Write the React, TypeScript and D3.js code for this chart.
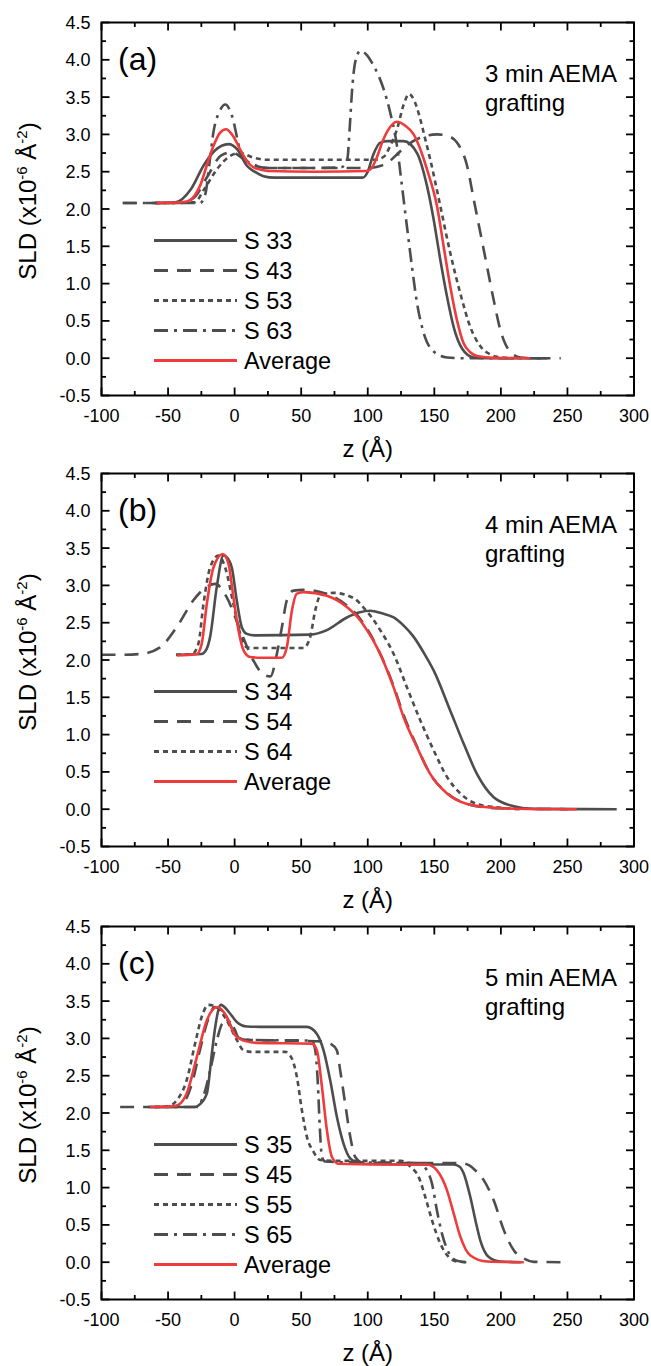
import React from "react";
import * as d3 from "d3";

// axis ticks
const xTicks = [-100, -50, 0, 50, 100, 150, 200, 250, 300];
const yTicks = [-0.5, 0, 0.5, 1, 1.5, 2, 2.5, 3, 3.5, 4, 4.5];

// panel (a) 3 min
const aLabels = ["S 33", "S 43", "S 53", "S 63", "Average"];
const aS33 = [[-60,2.08],[-45,2.085],[-33,2.26],[-23.4,2.58],[-15,2.78],[-4.6,2.87],[2,2.8],[9.2,2.58],[15,2.5],[21.7,2.44],[30,2.42],[60,2.42],[96,2.42],[100,2.5],[104,2.72],[109.4,2.89],[115,2.91],[127,2.91],[137,2.75],[144.5,2.31],[149.5,1.86],[154.5,1.32],[159.5,0.83],[164.5,0.42],[170.8,0.13],[179.6,0.01],[190,0],[235,0]];
const aS43 = [[-84,2.08],[-40,2.08],[-30,2.16],[-20,2.45],[-10,2.72],[-2,2.76],[6,2.68],[15,2.58],[25,2.55],[60,2.55],[100,2.55],[110,2.58],[117,2.65],[123,2.75],[130,2.86],[140,2.96],[152,3.0],[160,2.98],[167,2.89],[174.6,2.58],[179.6,2.13],[184.6,1.68],[189.6,1.23],[194.6,0.78],[199.6,0.38],[206,0.11],[214.6,0.01],[225,0],[245,0]];
const aS53 = [[-60,2.08],[-30,2.09],[-23,2.26],[-13.4,2.53],[-3.4,2.71],[4,2.75],[14,2.69],[24,2.66],[60,2.66],[105,2.66],[112,2.7],[117,2.85],[122,3.07],[127,3.4],[131,3.54],[135,3.45],[139.5,3.2],[143,2.95],[147,2.66],[154.5,2.04],[162,1.41],[169.5,0.87],[177,0.42],[184.6,0.16],[192,0.05],[197,0.02],[210,0]];
const aS63 = [[-84,2.08],[-26,2.08],[-22,2.2],[-19,2.6],[-16,3.02],[-11,3.32],[-7,3.4],[-2,3.25],[4,2.8],[9,2.65],[14,2.6],[22,2.55],[60,2.55],[80,2.56],[83,2.6],[84.7,2.67],[86.5,3.1],[88.1,3.56],[90.6,3.97],[94.4,4.12],[99,4.07],[104.4,3.92],[111.9,3.61],[116.9,3.29],[122,2.84],[125.7,2.31],[129.4,1.77],[133.2,1.23],[137,0.74],[142,0.34],[149.5,0.09],[159.5,0.01],[170,0],[230,0]];
const aAvg = [[-58.5,2.08],[-45,2.085],[-36,2.1],[-30,2.18],[-26,2.31],[-21,2.58],[-16,2.84],[-11,3.02],[-6.4,3.07],[-2,3.0],[1.6,2.89],[5,2.77],[9.2,2.64],[14,2.56],[19,2.53],[25,2.51],[60,2.5],[99.4,2.51],[103,2.55],[107,2.7],[111,2.9],[115,3.05],[121.9,3.17],[128,3.12],[134.5,3.0],[139.5,2.8],[144.5,2.53],[152,2.04],[157,1.5],[162,0.96],[167,0.51],[172,0.2],[177,0.08],[182,0.03],[195,0.005],[222,0]];

// panel (b) 4 min
const bLabels = ["S 34", "S 54", "S 64", "Average"];
const bS34 = [[-44,2.07],[-25,2.08],[-21,2.15],[-18.4,2.31],[-13.4,2.98],[-8.4,3.4],[-4,3.33],[-2.1,3.24],[1.6,2.8],[5.4,2.44],[9.2,2.35],[15,2.33],[56.8,2.34],[69.3,2.4],[84.3,2.57],[94,2.64],[102,2.66],[110,2.63],[119.5,2.57],[127,2.46],[134.5,2.31],[142,2.1],[149.5,1.86],[162,1.32],[172,0.88],[182.1,0.47],[194.6,0.16],[209.7,0.04],[225,0.005],[287,0]];
const bS54 = [[-100,2.07],[-85,2.07],[-71,2.08],[-56,2.17],[-43.5,2.44],[-31,2.8],[-21,2.98],[-14.6,3.02],[-5.9,2.84],[4.2,2.4],[14.2,1.99],[22,1.8],[27,1.78],[31.7,2.08],[35.5,2.44],[39.2,2.8],[44.2,2.93],[51.8,2.94],[70,2.88],[85,2.72],[94,2.56],[106,2.21],[119,1.67],[127,1.26],[137,0.84],[147,0.47],[160,0.21],[175,0.07],[195,0.015],[250,0]];
const bS64 = [[-44,2.07],[-32,2.08],[-27.2,2.22],[-23.4,2.75],[-18.4,3.24],[-12.1,3.4],[-7.1,3.24],[-0.9,2.75],[4.2,2.35],[9.2,2.17],[15,2.16],[51.8,2.16],[56.8,2.31],[60.5,2.66],[64.3,2.86],[74.3,2.9],[89.4,2.83],[97,2.7],[103,2.57],[109.4,2.4],[119.5,2.08],[129.5,1.63],[139.5,1.19],[149.5,0.79],[159.6,0.43],[169.6,0.21],[182,0.07],[199.6,0.02],[215,0]];
const bAvg = [[-43.5,2.06],[-28.4,2.08],[-24.7,2.22],[-20.9,2.75],[-15.9,3.24],[-8.9,3.42],[-4.6,3.29],[-0.9,2.84],[2.9,2.4],[6.7,2.13],[11.7,2.04],[20,2.03],[35.5,2.03],[39.2,2.17],[43,2.66],[46.8,2.89],[51.8,2.91],[69.3,2.86],[84.3,2.71],[94.4,2.53],[99.4,2.4],[106.9,2.17],[119.5,1.63],[127,1.23],[137,0.83],[147,0.47],[159.6,0.21],[174.6,0.07],[194.6,0.02],[220,0.003],[257,0]];

// panel (c) 5 min
const cLabels = ["S 35", "S 45", "S 55", "S 65", "Average"];
const cS35 = [[-65,2.08],[-30,2.08],[-27.2,2.1],[-20.9,2.26],[-17.1,2.8],[-14.6,3.15],[-10.4,3.45],[-4.6,3.36],[1.6,3.22],[9.2,3.16],[20,3.155],[54.3,3.155],[61.8,3.06],[66.8,2.84],[71.8,2.44],[76.8,1.95],[81.8,1.59],[86.9,1.39],[94.4,1.32],[130,1.31],[164.6,1.31],[169,1.28],[172.1,1.19],[177.1,0.87],[180.9,0.56],[184.6,0.29],[190.9,0.07],[199.6,0.01],[215,0]];
const cS45 = [[-86,2.08],[-45,2.08],[-38,2.15],[-32,2.4],[-26,2.85],[-20,3.25],[-15,3.42],[-10,3.38],[-4,3.2],[2,3.02],[8,2.98],[40,2.97],[66,2.96],[71.8,2.93],[76.8,2.84],[79.3,2.57],[83.1,2.12],[86.9,1.68],[90.6,1.41],[96.9,1.33],[130,1.33],[170,1.33],[176,1.3],[180.9,1.23],[187.1,1.1],[194.6,0.83],[202.2,0.43],[209.7,0.16],[217.2,0.05],[224.7,0.005],[245,0]];
const cS55 = [[-60,2.08],[-50,2.09],[-43.5,2.17],[-36,2.44],[-29.7,2.93],[-24.7,3.29],[-19.7,3.45],[-13.4,3.42],[-5.9,3.24],[1.6,2.98],[6.7,2.84],[12,2.82],[38,2.82],[43,2.73],[46.8,2.48],[50.5,2.04],[54.3,1.68],[59.3,1.48],[64.3,1.37],[75,1.36],[125,1.36],[132,1.28],[138.3,1.14],[143.3,0.87],[148.3,0.56],[154.5,0.25],[160.8,0.07],[167,0.01],[175,0]];
const cS65 = [[-60,2.08],[-28,2.08],[-24,2.2],[-18,2.6],[-13,3.0],[-9,3.2],[-3,3.22],[0,3.12],[3,3.01],[10,2.98],[58,2.97],[60.5,2.85],[62.5,2.4],[64,1.8],[65.6,1.41],[68,1.35],[80,1.34],[138,1.33],[144.5,1.23],[148.3,1.05],[152,0.69],[155.8,0.38],[160.8,0.13],[167,0.02],[174.6,0],[178,0]];
const cAvg = [[-63.5,2.08],[-50,2.085],[-43.5,2.1],[-36,2.26],[-28.4,2.75],[-20.9,3.24],[-12.9,3.42],[-5.9,3.29],[0.4,3.04],[6.7,2.97],[16.7,2.94],[58,2.93],[61.8,2.84],[65.6,2.35],[69.3,1.77],[73.1,1.41],[78.1,1.32],[110,1.31],[144.5,1.31],[152,1.23],[159.6,0.96],[164.6,0.65],[169.6,0.34],[177.1,0.09],[189.6,0.01],[217.2,0]];

const GRAY = "#4d4d4d";
const RED = "#ef3b3b";
const FONT = "'Liberation Sans', Arial, sans-serif";

const STYLES = {
  solid: { color: GRAY, dash: undefined },
  dash: { color: GRAY, dash: "14,9" },
  dot: { color: GRAY, dash: "5,4" },
  dashdot: { color: GRAY, dash: "14,6,3,6" },
  avg: { color: RED, dash: undefined },
};

const panels = [
  { tag: "(a)", note: "3 min AEMA", top: 22.5, labels: aLabels, kinds: ["solid", "dash", "dot", "dashdot", "avg"], data: [aS33, aS43, aS53, aS63, aAvg] },
  { tag: "(b)", note: "4 min AEMA", top: 473.5, labels: bLabels, kinds: ["solid", "dash", "dot", "avg"], data: [bS34, bS54, bS64, bAvg] },
  { tag: "(c)", note: "5 min AEMA", top: 926.5, labels: cLabels, kinds: ["solid", "dash", "dot", "dashdot", "avg"], data: [cS35, cS45, cS55, cS65, cAvg] },
];

const LEFT = 101.5;
const RIGHT = 634;
const PH = 373;

function Panel({ p }) {
  const x = d3.scaleLinear().domain([-100, 300]).range([LEFT, RIGHT]);
  const y = d3.scaleLinear().domain([-0.5, 4.5]).range([p.top + PH, p.top]);
  const bottom = p.top + PH;
  const line = d3.line().x(d => x(d[0])).y(d => y(d[1])).curve(d3.curveMonotoneX);

  const xMinor = d3.range(-75, 300, 50);
  const yMinor = d3.range(-0.25, 4.5, 0.5);
  const mid = p.top + PH / 2;

  return (
    <g fontFamily={FONT}>
      {/* ticks, inward on all sides */}
      <g stroke="#000" strokeWidth={1.8}>
        {xTicks.map(t => (
          <g key={"xt" + t}>
            <line x1={x(t)} x2={x(t)} y1={bottom} y2={bottom - 8} />
            <line x1={x(t)} x2={x(t)} y1={p.top} y2={p.top + 8} />
          </g>
        ))}
        {xMinor.map(t => (
          <g key={"xm" + t}>
            <line x1={x(t)} x2={x(t)} y1={bottom} y2={bottom - 4.5} />
            <line x1={x(t)} x2={x(t)} y1={p.top} y2={p.top + 4.5} />
          </g>
        ))}
        {yTicks.map(t => (
          <g key={"yt" + t}>
            <line x1={LEFT} x2={LEFT + 8} y1={y(t)} y2={y(t)} />
            <line x1={RIGHT} x2={RIGHT - 8} y1={y(t)} y2={y(t)} />
          </g>
        ))}
        {yMinor.map(t => (
          <g key={"ym" + t}>
            <line x1={LEFT} x2={LEFT + 4.5} y1={y(t)} y2={y(t)} />
            <line x1={RIGHT} x2={RIGHT - 4.5} y1={y(t)} y2={y(t)} />
          </g>
        ))}
      </g>

      {/* series, gray first, average on top */}
      {p.data.map((d, i) => {
        const s = STYLES[p.kinds[i]];
        return (
          <path key={"s" + i} d={line(d)} fill="none" stroke={s.color} strokeWidth={2.6}
            strokeDasharray={s.dash} strokeLinejoin="round" />
        );
      })}

      <rect x={LEFT} y={p.top} width={RIGHT - LEFT} height={PH} fill="none" stroke="#000" strokeWidth={2} />

      {/* tick labels */}
      {xTicks.map(t => (
        <text key={"xl" + t} x={x(t)} y={bottom + 26} fontSize={18} textAnchor="middle">{t}</text>
      ))}
      {yTicks.map(t => (
        <text key={"yl" + t} x={90.5} y={y(t) + 6.5} fontSize={18} textAnchor="end">{t.toFixed(1)}</text>
      ))}

      <text x={(LEFT + RIGHT) / 2} y={bottom + 61} fontSize={24} textAnchor="middle">z (Å)</text>
      <text transform={`translate(36,${mid - 8}) rotate(-90)`} fontSize={24} textAnchor="middle">
        SLD (x10<tspan fontSize={15} dy={-9}>-6</tspan><tspan dy={9}> Å</tspan><tspan fontSize={15} dy={-9}>-2</tspan><tspan dy={9}>)</tspan>
      </text>

      <text x={LEFT + 16.5} y={p.top + 47} fontSize={32}>{p.tag}</text>
      <text x={485} y={p.top + 59.5} fontSize={24}>{p.note}</text>
      <text x={485} y={p.top + 88.5} fontSize={24}>grafting</text>

      {/* legend */}
      {p.labels.map((lab, i) => {
        const s = STYLES[p.kinds[i]];
        const ry = p.top + 218 + i * 30;
        return (
          <g key={"lg" + i}>
            <line x1={154} x2={237} y1={ry} y2={ry} stroke={s.color} strokeWidth={3} strokeDasharray={s.dash} />
            <text x={244} y={ry + 8.5} fontSize={23.5}>{lab}</text>
          </g>
        );
      })}
    </g>
  );
}

export default function App() {
  return (
    <svg width={651} height={1366} style={{ position: "absolute", left: 0, top: 0, background: "#fff" }}>
      {panels.map(p => <Panel key={p.tag} p={p} />)}
    </svg>
  );
}
